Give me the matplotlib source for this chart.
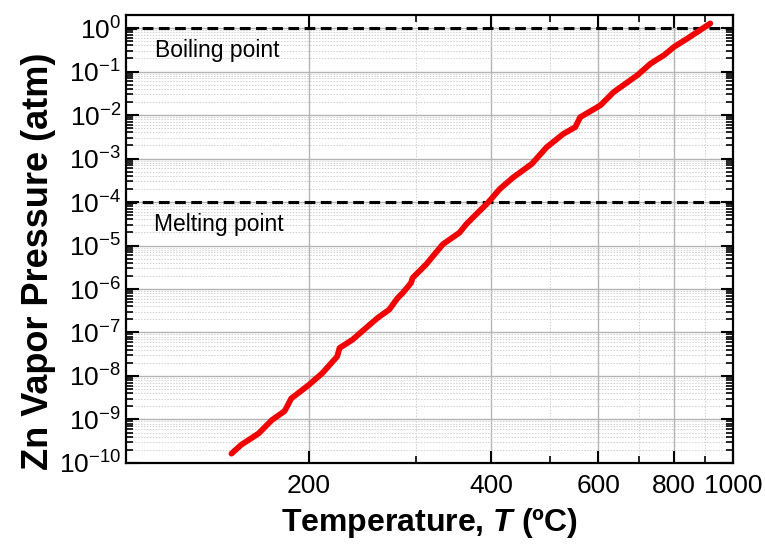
import matplotlib
matplotlib.use("Agg")
import matplotlib.pyplot as plt
from matplotlib.ticker import FixedLocator, FixedFormatter, LogLocator, NullFormatter

plt.rcParams['font.family'] = ['Liberation Sans', 'DejaVu Sans']
plt.rcParams['mathtext.fontset'] = 'custom'
plt.rcParams['mathtext.rm'] = 'Liberation Sans'
plt.rcParams['mathtext.it'] = 'Liberation Sans:italic:bold'
plt.rcParams['mathtext.bf'] = 'Liberation Sans:bold'
plt.rcParams['axes.unicode_minus'] = False

# Zn vapour pressure
temp_c = [149.2, 155.0, 165.3, 173.9, 182.5, 187.2, 200.0, 210.4, 222.8, 224.8,
          236.0, 248.3, 259.6, 271.4, 280.2, 285.6, 294.8, 296.6, 312.2, 332.7,
          354.4, 363.6, 375.2, 394.8, 412.8, 434.4, 466.0, 493.2, 525.6, 549.6,
          560.2, 604.6, 636.0, 695.4, 731.8, 769.6, 799.8, 841.6, 874.4, 917.4]
pressure_atm = [1.64e-10, 2.65e-10, 4.75e-10, 9.7e-10, 1.56e-9, 3.05e-9, 6.2e-9, 1.15e-8, 2.8e-8, 4.4e-8,
                6.8e-8, 1.26e-7, 2.15e-7, 3.36e-7, 6.2e-7, 8.1e-7, 1.38e-6, 1.8e-6, 3.68e-6, 1.07e-5,
                1.98e-5, 3.09e-5, 4.8e-5, 9.7e-5, 1.99e-4, 3.68e-4, 7.5e-4, 1.82e-3, 3.7e-3, 5.26e-3,
                8.95e-3, 1.67e-2, 3.38e-2, 8.2e-2, 0.153, 0.238, 0.37, 0.578, 0.822, 1.28]

boiling_p = 1.0
melting_p = 1e-4

x_major = [200, 400, 600, 800, 1000]
x_labels = ["200", "400", "600", "800", "1000"]
x_minor = [300, 500, 700, 900]
y_exps = list(range(-10, 1))

fig = plt.figure(figsize=(7.65, 5.54), dpi=100)
ax = fig.add_axes([0.1647, 0.1643, 0.7935, 0.8087])

ax.set_xscale("log")
ax.set_yscale("log")
ax.set_xlim(100, 1000)
ax.set_ylim(1e-10, 2)

# grid under everything
ax.grid(which="major", color="#b4b4b4", linewidth=1.0, linestyle="-")
ax.grid(which="minor", color="#d0d0d0", linewidth=0.7, linestyle=(0, (1.5, 1.5)))
ax.set_axisbelow(True)

ax.axhline(boiling_p, color="black", linestyle=(0, (3.5, 1.8)), linewidth=2.2, zorder=3)
ax.axhline(melting_p, color="black", linestyle=(0, (3.5, 1.8)), linewidth=2.2, zorder=3)

ax.plot(temp_c, pressure_atm, color="#f20000", linewidth=4.2, solid_capstyle="round", zorder=4)

ax.text(111.5, 0.31, "Boiling point", fontsize=16.5, va="center", ha="left")
ax.text(111.0, 3.0e-5, "Melting point", fontsize=16.5, va="center", ha="left")

ax.xaxis.set_major_locator(FixedLocator(x_major))
ax.xaxis.set_major_formatter(FixedFormatter(x_labels))
ax.xaxis.set_minor_locator(FixedLocator(x_minor))
ax.xaxis.set_minor_formatter(NullFormatter())

ax.yaxis.set_major_locator(FixedLocator([10.0 ** e for e in y_exps]))
ax.yaxis.set_major_formatter(FixedFormatter(["$10^{%d}$" % e for e in y_exps]))
ax.yaxis.set_minor_locator(LogLocator(base=10, subs=range(2, 10), numticks=30))
ax.yaxis.set_minor_formatter(NullFormatter())

ax.tick_params(which="both", direction="in", top=True, right=True, labelsize=19, width=1.5)
ax.tick_params(which="major", length=9)
ax.tick_params(which="minor", length=5, width=1.2)
ax.tick_params(axis="x", pad=8)

for s in ax.spines.values():
    s.set_linewidth(1.6)

ax.set_ylabel("Zn Vapor Pressure (atm)", fontsize=26, fontweight="bold")
ax.set_xlabel("Temperature, $T$ (ºC)", fontsize=23, fontweight="bold")
ax.yaxis.set_label_coords(-0.115, 0.45)
ax.xaxis.set_label_coords(0.5, -0.095)

fig.savefig("out.png", dpi=100)
